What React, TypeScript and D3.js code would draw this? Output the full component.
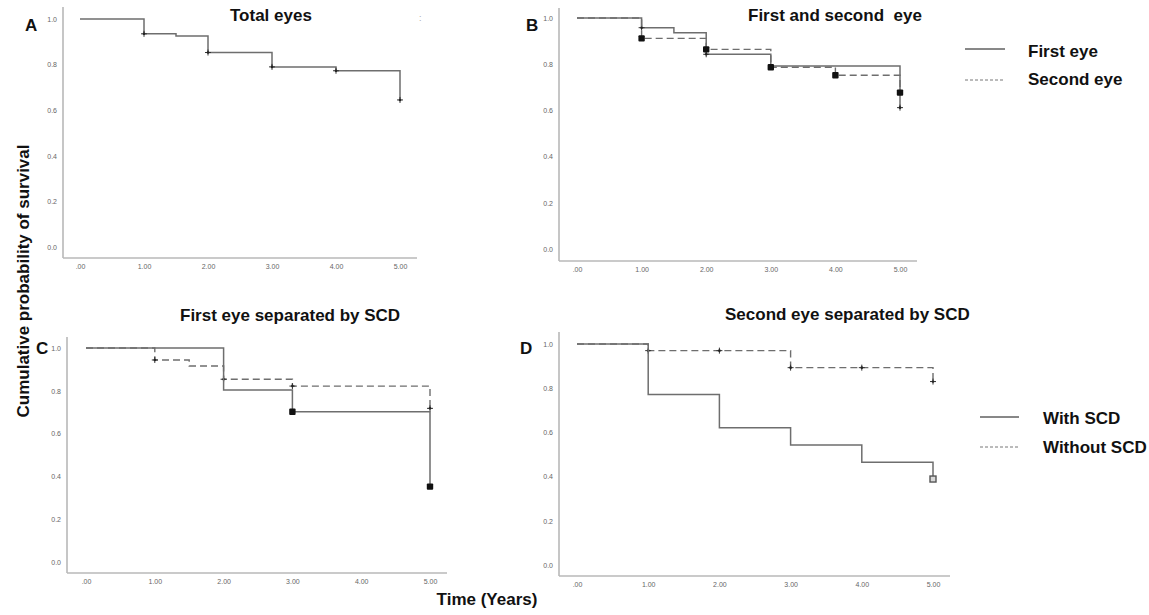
import React, { useEffect, useRef } from 'react';
import * as d3 from 'd3';

// axis ticks
const xTicks = [0, 1, 2, 3, 4, 5];
const yTicks = [0, 0.2, 0.4, 0.6, 0.8, 1.0];

// A: total eyes
const totalTimes = [0, 1, 1.5, 2, 3, 4, 5];
const totalSurv = [1.0, 0.935, 0.925, 0.853, 0.79, 0.773, 0.645];
const totalCensored = [1, 2, 3, 4, 5];

// B: first / second eye
const firstEyeTimes = [0, 1, 1.5, 2, 3, 5];
const firstEyeSurv = [1.0, 0.958, 0.936, 0.843, 0.792, 0.612];
const firstEyeCensored = [1, 2, 5];

const secondEyeTimes = [0, 1, 2, 3, 4, 5];
const secondEyeSurv = [1.0, 0.912, 0.864, 0.787, 0.752, 0.677];
const secondEyeCensored = [1, 2, 3, 4, 5];

// C: first eye by SCD
const firstWithTimes = [0, 2, 3, 5];
const firstWithSurv = [1.0, 0.804, 0.702, 0.352];
const firstWithCensored = [3, 5];

const firstWithoutTimes = [0, 1, 1.5, 2, 3, 5];
const firstWithoutSurv = [1.0, 0.944, 0.916, 0.854, 0.822, 0.718];
const firstWithoutCensored = [1, 2, 3, 5];

// D: second eye by SCD
const secondWithTimes = [0, 1, 2, 3, 4, 5];
const secondWithSurv = [1.0, 0.772, 0.621, 0.543, 0.465, 0.389];
const secondWithCensored = [5];

const secondWithoutTimes = [0, 1, 3, 5];
const secondWithoutSurv = [1.0, 0.97, 0.893, 0.83];
const secondWithoutCensored = [1, 2, 3, 4, 5];

const FONT = '"Liberation Sans", Arial, Helvetica, sans-serif';

const panels = [
  {
    letter: 'A', letterX: 25, letterY: 31, title: 'Total eyes', titleX: 230, titleY: 21,
    left: 63, top: 7, right: 417, bottom: 258, t0: 80, t5: 400, y1: 19, y0: 247,
    series: [
      { times: totalTimes, surv: totalSurv, censored: totalCensored, dashed: false, marker: 'plus' },
    ],
  },
  {
    letter: 'B', letterX: 526, letterY: 31, title: 'First and second\u00a0 eye', titleX: 748, titleY: 21,
    left: 559, top: 8, right: 917, bottom: 261, t0: 577, t5: 900, y1: 18, y0: 249,
    series: [
      { times: firstEyeTimes, surv: firstEyeSurv, censored: firstEyeCensored, dashed: false, marker: 'plus' },
      { times: secondEyeTimes, surv: secondEyeSurv, censored: secondEyeCensored, dashed: true, marker: 'square' },
    ],
  },
  {
    letter: 'C', letterX: 36, letterY: 354, title: 'First eye separated by SCD', titleX: 180, titleY: 321,
    left: 67, top: 337, right: 447, bottom: 573, t0: 86, t5: 430, y1: 348, y0: 562,
    series: [
      { times: firstWithoutTimes, surv: firstWithoutSurv, censored: firstWithoutCensored, dashed: true, marker: 'plus' },
      { times: firstWithTimes, surv: firstWithSurv, censored: firstWithCensored, dashed: false, marker: 'square' },
    ],
  },
  {
    letter: 'D', letterX: 520, letterY: 354, title: 'Second eye separated by SCD', titleX: 725, titleY: 320,
    left: 559, top: 332, right: 950, bottom: 576, t0: 577, t5: 933, y1: 344, y0: 565,
    series: [
      { times: secondWithoutTimes, surv: secondWithoutSurv, censored: secondWithoutCensored, dashed: true, marker: 'plus' },
      { times: secondWithTimes, surv: secondWithSurv, censored: secondWithCensored, dashed: false, marker: 'hollow' },
    ],
  },
];

const legends = [
  { label: 'First eye', dashed: false, x1: 965, x2: 1005, lineY: 49, textX: 1028, textY: 57 },
  { label: 'Second eye', dashed: true, x1: 965, x2: 1005, lineY: 80, textX: 1028, textY: 85 },
  { label: 'With SCD', dashed: false, x1: 980, x2: 1019, lineY: 417, textX: 1043, textY: 424 },
  { label: 'Without SCD', dashed: true, x1: 980, x2: 1019, lineY: 447, textX: 1043, textY: 453 },
];

const App = () => {
  const svgRef = useRef<SVGSVGElement>(null);

  useEffect(() => {
    const svg = d3.select(svgRef.current);
    svg.selectAll('*').remove();

    const xFormat = (d: any) => (d === 0 ? '.00' : d3.format('.2f')(d));

    panels.forEach(p => {
      const x = d3.scaleLinear().domain([0, 5]).range([p.t0, p.t5]);
      const y = d3.scaleLinear().domain([0, 1]).range([p.y0, p.y1]);
      const g = svg.append('g');

      // axis lines (they run past the tick range, so drawn by hand)
      g.append('line')
        .attr('x1', p.left).attr('x2', p.left).attr('y1', p.top).attr('y2', p.bottom)
        .attr('stroke', '#b8b8b8').attr('stroke-width', 1.6);
      g.append('line')
        .attr('x1', p.left).attr('x2', p.right).attr('y1', p.bottom).attr('y2', p.bottom)
        .attr('stroke', '#b8b8b8').attr('stroke-width', 1.6);

      const yAxis = g.append('g')
        .attr('transform', `translate(${p.left - 6},0)`)
        .call(d3.axisLeft(y).tickValues(yTicks).tickSize(0).tickPadding(0).tickFormat(d3.format('.1f') as any));
      yAxis.select('.domain').remove();
      yAxis.attr('font-size', 7).attr('font-family', FONT);
      yAxis.selectAll('text').attr('fill', '#666');

      const xAxis = g.append('g')
        .attr('transform', `translate(0,${p.bottom + 6})`)
        .call(d3.axisBottom(x).tickValues(xTicks).tickSize(0).tickPadding(0).tickFormat(xFormat));
      xAxis.select('.domain').remove();
      xAxis.attr('font-size', 7).attr('font-family', FONT);
      xAxis.selectAll('text').attr('fill', '#666');

      const path = d3.line<[number, number]>()
        .x(d => x(d[0]))
        .y(d => y(d[1]))
        .curve(d3.curveStepAfter);

      p.series.forEach(s => {
        const pts: [number, number][] = s.times.map((t, i) => [t, s.surv[i]]);
        g.append('path')
          .attr('d', path(pts))
          .attr('fill', 'none')
          .attr('stroke', '#6e6e6e')
          .attr('stroke-width', s.dashed ? 1.4 : 1.5)
          .attr('stroke-dasharray', s.dashed ? '7,4' : null);

        // censor marks sit on the step value at that time
        s.censored.forEach(t => {
          let idx = 0;
          s.times.forEach((tt, i) => { if (tt <= t) idx = i; });
          const cx = x(t);
          const cy = y(s.surv[idx]);
          if (s.marker === 'plus') {
            g.append('line').attr('x1', cx - 3).attr('x2', cx + 3).attr('y1', cy).attr('y2', cy)
              .attr('stroke', '#333').attr('stroke-width', 1);
            g.append('line').attr('x1', cx).attr('x2', cx).attr('y1', cy - 3).attr('y2', cy + 3)
              .attr('stroke', '#333').attr('stroke-width', 1);
            g.append('circle').attr('cx', cx).attr('cy', cy).attr('r', 1.3).attr('fill', '#222');
          } else if (s.marker === 'square') {
            g.append('rect').attr('x', cx - 3.2).attr('y', cy - 3.2).attr('width', 6.4).attr('height', 6.4)
              .attr('rx', 1).attr('fill', '#111');
          } else {
            g.append('rect').attr('x', cx - 3).attr('y', cy - 3).attr('width', 6).attr('height', 6)
              .attr('fill', '#d8d8d8').attr('stroke', '#555').attr('stroke-width', 1.4);
          }
        });
      });

      g.append('text')
        .attr('x', p.titleX).attr('y', p.titleY)
        .attr('font-family', FONT).attr('font-size', 17).attr('font-weight', 'bold')
        .attr('fill', '#111').text(p.title);

      g.append('text')
        .attr('x', p.letterX).attr('y', p.letterY)
        .attr('font-family', FONT).attr('font-size', 17).attr('font-weight', 'bold')
        .attr('fill', '#111').text(p.letter);
    });

    // stray marks at the top right of panel A
    svg.append('text')
      .attr('x', 419).attr('y', 21).attr('font-family', FONT).attr('font-size', 9)
      .attr('fill', '#aaa').text(':');

    legends.forEach(l => {
      svg.append('line')
        .attr('x1', l.x1).attr('x2', l.x2).attr('y1', l.lineY).attr('y2', l.lineY)
        .attr('stroke', l.dashed ? '#777' : '#111')
        .attr('stroke-width', 1)
        .attr('stroke-dasharray', l.dashed ? '3,2' : null);
      svg.append('text')
        .attr('x', l.textX).attr('y', l.textY)
        .attr('font-family', FONT).attr('font-size', 17).attr('font-weight', 'bold')
        .attr('fill', '#111').text(l.label);
    });

    svg.append('text')
      .attr('transform', 'translate(29,281) rotate(-90)')
      .attr('text-anchor', 'middle')
      .attr('font-family', FONT).attr('font-size', 17).attr('font-weight', 'bold')
      .attr('fill', '#111').text('Cumulative probability of survival');

    svg.append('text')
      .attr('x', 487).attr('y', 605)
      .attr('text-anchor', 'middle')
      .attr('font-family', FONT).attr('font-size', 17).attr('font-weight', 'bold')
      .attr('fill', '#111').text('Time (Years)');
  }, []);

  return (
    <div style={{ position: 'absolute', left: 0, top: 0, width: 1149, height: 615, background: '#fff' }}>
      <svg ref={svgRef} width={1149} height={615}></svg>
    </div>
  );
};

export default App;
